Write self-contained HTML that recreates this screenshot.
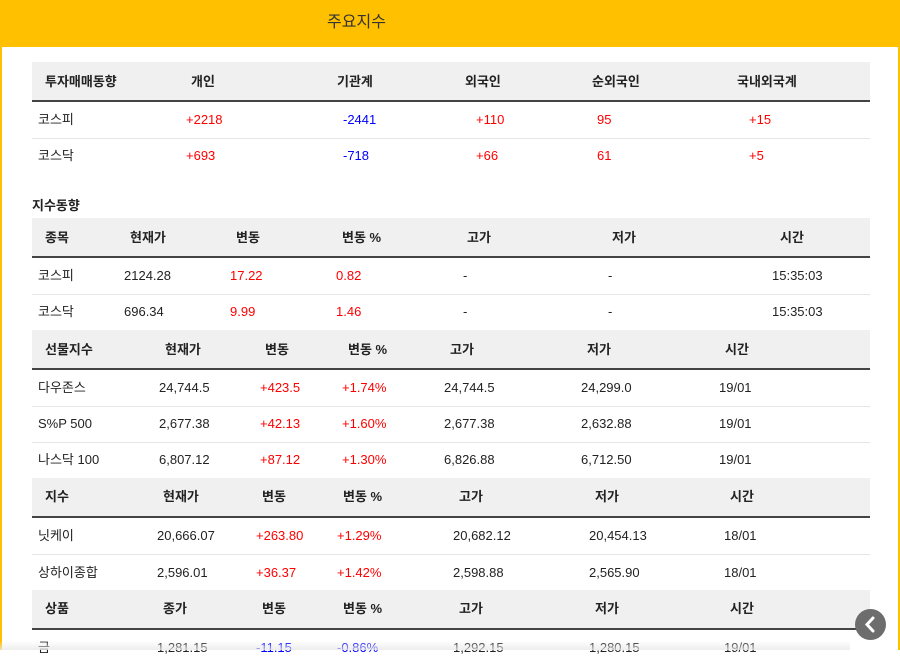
<!DOCTYPE html>
<html><head><meta charset="utf-8">
<style>
html,body{margin:0;padding:0;}
body{width:900px;height:650px;position:relative;overflow:hidden;background:#fff;font-family:"Liberation Sans","Noto Sans CJK KR",sans-serif;font-size:13px;color:#222;}
#header{position:absolute;left:0;top:0;width:900px;height:47px;background:#FFC000;}
#title{position:absolute;left:0;width:713px;top:8px;text-align:center;font-size:16px;color:#333;}
.side{position:absolute;top:47px;width:2px;height:603px;background:#FFC000;}
.hdr{position:absolute;left:32px;width:838px;height:38px;background:#f0f0f0;border-bottom:2px solid #444;}
.sep{position:absolute;left:32px;width:838px;height:1px;background:#e6e6e6;}
.t{position:absolute;white-space:nowrap;line-height:16px;}
.b{font-weight:bold;color:#222;}
.r{color:#f00;}
.u{color:#00f;}
#back{position:absolute;left:855px;top:609px;width:31px;height:31px;border-radius:50%;background:#6d6d6d;}
#fade{position:absolute;left:0;top:641px;width:850px;height:9px;background:linear-gradient(#fff0,#e8e8e8cc);}
</style></head>
<body>
<div id="header"><div id="title">주요지수</div></div>
<div class="side" style="left:0"></div>
<div class="side" style="left:898px"></div>
<div id="content"></div>
<div class="t b" style="left:32px;top:198px">지수동향</div>
<div id="fade"></div>
<div id="back"><svg width="31" height="31"><path d="M18 9 L12 15.5 L18 22" stroke="#fff" stroke-width="3" fill="none" stroke-linecap="round"/></svg></div>
<script>
const c=document.getElementById('content');
function txt(x,y,s,cls){const d=document.createElement('div');d.className='t '+(cls||'');d.style.left=x+'px';d.style.top=(y-8)+'px';d.textContent=s;


c.appendChild(d);}
function hdr(y){const d=document.createElement('div');d.className='hdr';d.style.top=y+'px';


c.appendChild(d);}
function sep(y){const d=document.createElement('div');d.className='sep';d.style.top=y+'px';


c.appendChild(d);}
function cls(v){if(v[0]==='+')return 'r';if(v[0]==='-'&&v.length>1)return 'u';return '';}
// table 1
hdr(62);
[[45,'투자매매동향'],[191,'개인'],[337,'기관계'],[465,'외국인'],[592,'순외국인'],[737,'국내외국계']].forEach(a=>txt(a[0],82,a[1],'b'));
const t1x=[38,186,343,476,597,749];
const t1rows=[['코스피','+2218','-2441','+110','95','+15'],['코스닥','+693','-718','+66','61','+5']];
t1rows.forEach((r,i)=>{const y=120+i*36;r.forEach((v,j)=>txt(t1x[j],y,v,j==0?'':(j==4?'r':cls(v))));});
sep(138);
// table 2
hdr(218);
[[45,'종목'],[130,'현재가'],[236,'변동'],[342,'변동 %'],[467,'고가'],[612,'저가'],[780,'시간']].forEach(a=>txt(a[0],238,a[1],'b'));
const t2x=[38,124,230,336,463,608,772];
[['코스피','2124.28','17.22','0.82','-','-','15:35:03'],['코스닥','696.34','9.99','1.46','-','-','15:35:03']].forEach((r,i)=>{const y=276+i*36;r.forEach((v,j)=>txt(t2x[j],y,v,(j==2||j==3)?'r':''));});
sep(294);
// table 3
hdr(330);
[[45,'선물지수'],[165,'현재가'],[265,'변동'],[348,'변동 %'],[450,'고가'],[587,'저가'],[725,'시간']].forEach(a=>txt(a[0],350,a[1],'b'));
const t3x=[38,159,260,342,444,581,719];
[['다우존스','24,744.5','+423.5','+1.74%','24,744.5','24,299.0','19/01'],['S%P 500','2,677.38','+42.13','+1.60%','2,677.38','2,632.88','19/01'],['나스닥 100','6,807.12','+87.12','+1.30%','6,826.88','6,712.50','19/01']].forEach((r,i)=>{const y=388+i*36;r.forEach((v,j)=>txt(t3x[j],y,v,(j==2||j==3)?cls(v):''));});
sep(406);sep(442);
// table 4
hdr(478);
[[45,'지수'],[163,'현재가'],[262,'변동'],[343,'변동 %'],[459,'고가'],[595,'저가'],[730,'시간']].forEach(a=>txt(a[0],497,a[1],'b'));
const t4x=[38,157,256,337,453,589,724];
[['닛케이','20,666.07','+263.80','+1.29%','20,682.12','20,454.13','18/01'],['상하이종합','2,596.01','+36.37','+1.42%','2,598.88','2,565.90','18/01']].forEach((r,i)=>{const y=536+i*37;r.forEach((v,j)=>txt(t4x[j],y,v,(j==2||j==3)?cls(v):''));});
sep(554);
// table 5
hdr(590);
[[45,'상품'],[163,'종가'],[262,'변동'],[343,'변동 %'],[459,'고가'],[595,'저가'],[730,'시간']].forEach(a=>txt(a[0],609,a[1],'b'));
[['금','1,281.15','-11.15','-0.86%','1,292.15','1,280.15','19/01']].forEach((r,i)=>{const y=648;r.forEach((v,j)=>txt(t4x[j],y,v,(j==2||j==3)?cls(v):''));});
</script>
</body></html>
